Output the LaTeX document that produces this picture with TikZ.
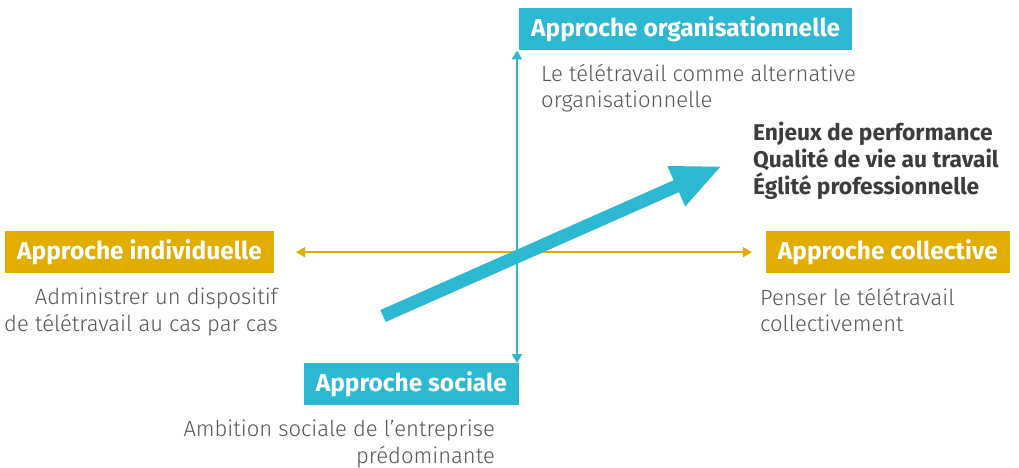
\documentclass[tikz,border=0pt]{standalone}
\usepackage{fontspec}
\setmainfont{Fira Sans}
\newfontfamily\lightfont{Fira Sans}[UprightFont=* Light]
\usetikzlibrary{arrows.meta}
\definecolor{turquoise}{HTML}{2CB8D0}
\definecolor{ocre}{HTML}{E0AD00}
\definecolor{gristexte}{HTML}{555555}
\definecolor{grisfonce}{HTML}{3C3C3C}

\begin{document}
\begin{tikzpicture}[x=1pt,y=-1pt,
    boite/.style={fill=#1,text=white,font=\fontsize{24.5}{28}\selectfont\bfseries,inner xsep=12pt,minimum height=42pt,anchor=north west},
    legende/.style={text=gristexte,font=\lightfont\fontsize{22}{26.5}\selectfont,inner sep=0pt},
    fleche/.style={-{Triangle[length=9pt,width=10pt]},line width=2pt,draw=#1}]
    \useasboundingbox (0,0) rectangle (1019,468);
    \node[boite=turquoise] (orga) at (519,8) {Approche organisationnelle};
    \node[boite=turquoise,anchor=north east] (sociale) at (519,363) {Approche sociale};
    \node[boite=ocre] (indiv) at (5,231) {Approche individuelle};
    \node[boite=ocre,anchor=north east] (collect) at (1010,231) {Approche collective};
    \node[legende,anchor=north west,align=left] (orgatxt) at (541,64) {Le télétravail comme alternative\\organisationnelle};
    \node[legende,anchor=north east,align=right] (indivtxt) at (278,288) {Administrer un dispositif\\de télétravail au cas par cas};
    \node[legende,anchor=north west,align=left] (collecttxt) at (760,288) {Penser le télétravail\\collectivement};
    \node[legende,anchor=north east,align=right] (socialetxt) at (495,420) {Ambition sociale de l’entreprise\\prédominante};
    \node[text=grisfonce,font=\fontsize{22.8}{27}\selectfont\bfseries,anchor=north west,align=left,inner sep=0pt] (enjeux) at (753,122) {Enjeux de performance\\Qualité de vie au travail\\Églité professionnelle};
    % axes
    \draw[fleche=turquoise,{Triangle[length=9pt,width=10pt]}-{Triangle[length=9pt,width=10pt]}] (orga.south west) ++(-2,0) coordinate (haut) (haut) -- (haut |- sociale.north) coordinate (bas);
    \draw[fleche=ocre,{Triangle[length=9pt,width=10pt]}-{Triangle[length=9pt,width=10pt]},shorten <=22pt,shorten >=14pt] (indiv.east) -- (collect.west);
    % grande fleche
    \coordinate (depart) at (383,316);
    \coordinate (arrivee) at (722,166);
    \draw[turquoise,line width=13pt,-{Triangle[length=50pt,width=40pt]}] (depart) -- (arrivee);
\end{tikzpicture}
\end{document}
